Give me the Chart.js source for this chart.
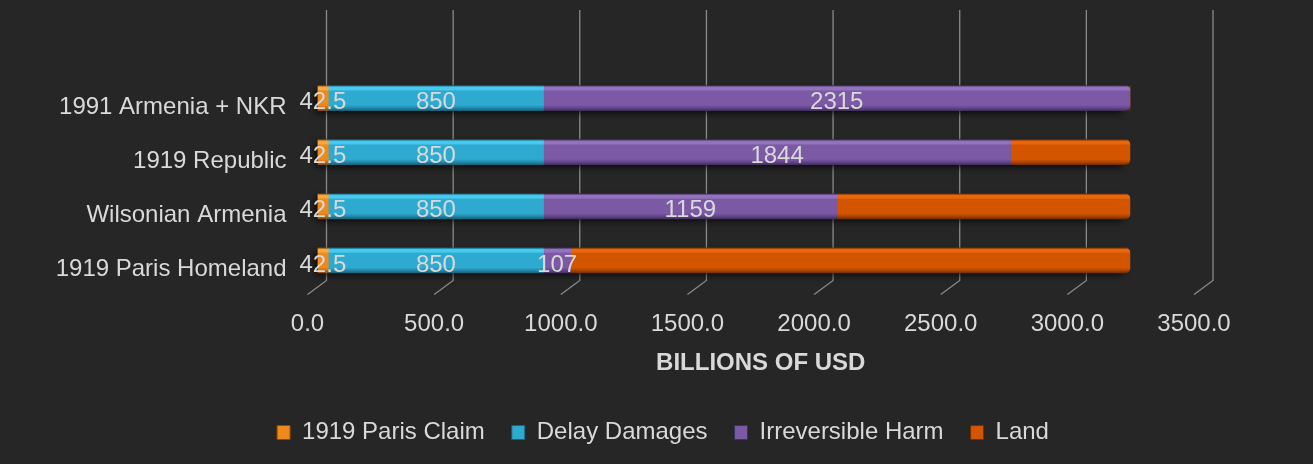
<!DOCTYPE html>
<html><head><meta charset="utf-8">
<script src="https://cdn.jsdelivr.net/npm/chart.js@4.4.0/dist/chart.umd.min.js"></script>
<style>html,body{margin:0;padding:0;background:#262626;}#wrap{width:1313px;height:464px;}</style>
</head><body><div id="wrap"><canvas id="c" width="1313" height="464"></canvas></div>
<script>
const categories = ['1991 Armenia + NKR', '1919 Republic', 'Wilsonian Armenia', '1919 Paris Homeland'];
const seriesNames = ['1919 Paris Claim', 'Delay Damages', 'Irreversible Harm', 'Land'];
const parisClaim = [42.5, 42.5, 42.5, 42.5];
const delayDamages = [850, 850, 850, 850];
const irreversibleHarm = [2315, 1844, 1159, 107];
const land = [0, 471, 1156, 2208];
const showValueLabels = [true, true, true, false];
const xTickValues = [0, 500, 1000, 1500, 2000, 2500, 3000, 3500];
const axisTitle = 'BILLIONS OF USD';

const FONT = "'Liberation Sans', Arial, sans-serif";
const FS = 24;
const TXT = '#d9d9d9';
const palette = [
  {light:'#f8a83e', mid:'#ee8a1c', dark:'#c56c0f', edge:'#8a4a08'},
  {light:'#47caef', mid:'#2eaad0', dark:'#2389aa', edge:'#17617a'},
  {light:'#9372be', mid:'#7b59a5', dark:'#624589', edge:'#42305e'},
  {light:'#ea660c', mid:'#d45500', dark:'#ad4500', edge:'#733000'}
];
const BAR_T = 25;
const seriesData = [parisClaim, delayDamages, irreversibleHarm, land];

function barFill(i) {
  return (ctx) => {
    const chart = ctx.chart, ys = chart.scales.y, p = palette[i];
    if (!ys || !chart.chartArea || ctx.dataIndex === undefined) return p.mid;
    const yc = ys.getPixelForValue(ctx.dataIndex);
    const g = chart.ctx.createLinearGradient(0, yc - BAR_T/2, 0, yc + BAR_T/2);
    g.addColorStop(0, p.edge);
    g.addColorStop(0.06, p.light);
    g.addColorStop(0.16, p.light);
    g.addColorStop(0.22, p.mid);
    g.addColorStop(0.78, p.mid);
    g.addColorStop(0.9, p.dark);
    g.addColorStop(1, p.edge);
    return g;
  };
}

function lastSeriesIndex(j) {
  let last = 0;
  seriesData.forEach((arr, i) => { if (arr[j] > 0) last = i; });
  return last;
}

function barRadius(i) {
  return (ctx) => (ctx.dataIndex !== undefined && lastSeriesIndex(ctx.dataIndex) === i)
    ? {topLeft: 0, bottomLeft: 0, topRight: 5, bottomRight: 5} : 0;
}

const bgPlugin = {
  id: 'bg',
  beforeDraw(chart) {
    const c = chart.ctx;
    c.save(); c.fillStyle = '#262626'; c.fillRect(0, 0, chart.width, chart.height); c.restore();
  }
};

const wallPlugin = {
  id: 'wall',
  beforeDatasetsDraw(chart) {
    const c = chart.ctx, xs = chart.scales.x, ys = chart.scales.y, area = chart.chartArea;
    c.save();
    c.strokeStyle = '#8a8a8a';
    c.lineWidth = 1.3;
    xTickValues.forEach(v => {
      const px = xs.getPixelForValue(v);
      c.beginPath();
      c.moveTo(px + 9, area.top - 61);
      c.lineTo(px + 9, area.bottom - 7);
      c.lineTo(px - 10, area.bottom + 7);
      c.stroke();
    });
    c.fillStyle = '#111';
    c.shadowColor = 'rgba(0,0,0,0.85)';
    c.shadowBlur = 7;
    c.shadowOffsetX = -3;
    c.shadowOffsetY = 2;
    categories.forEach((_, j) => {
      const total = seriesData.reduce((s, arr) => s + arr[j], 0);
      const x0 = xs.getPixelForValue(0), x1 = xs.getPixelForValue(total);
      const yc = ys.getPixelForValue(j);
      c.fillRect(x0, yc - BAR_T/2 + 1, x1 - x0 - 4, BAR_T - 1);
    });
    c.restore();
  }
};

const labelPlugin = {
  id: 'vlabels',
  afterDatasetsDraw(chart) {
    const c = chart.ctx;
    c.save();
    c.font = FS + 'px ' + FONT;
    c.fillStyle = TXT;
    c.textAlign = 'center';
    c.textBaseline = 'middle';
    chart.data.datasets.forEach((ds, i) => {
      if (!showValueLabels[i]) return;
      const meta = chart.getDatasetMeta(i);
      meta.data.forEach((el, j) => {
        const v = ds.data[j];
        if (!v) return;
        const cx = (el.x + el.base) / 2;
        c.fillText(String(v), cx, el.y + 4.5);
      });
    });
    c.restore();
  }
};

new Chart(document.getElementById('c'), {
  type: 'bar',
  data: {
    labels: categories,
    datasets: seriesNames.map((name, i) => ({
      label: name,
      data: seriesData[i],
      backgroundColor: barFill(i),
      borderWidth: 0,
      borderRadius: barRadius(i),
      barThickness: BAR_T
    }))
  },
  options: {
    indexAxis: 'y',
    responsive: false,
    animation: false,
    layout: {padding: {left: 13, top: 71, right: 0, bottom: 9.5}},
    plugins: {
      tooltip: {enabled: false},
      legend: {
        position: 'bottom',
        labels: {
          color: TXT,
          font: {size: FS, family: FONT},
          boxWidth: 13,
          boxHeight: 14,
          padding: 27,
          generateLabels: (chart) => chart.data.datasets.map((ds, i) => ({
            text: ds.label,
            fillStyle: palette[i].mid,
            strokeStyle: palette[i].edge,
            lineWidth: 1,
            hidden: false,
            datasetIndex: i,
            fontColor: TXT
          }))
        }
      }
    },
    scales: {
      x: {
        stacked: true,
        min: 0,
        max: 3500,
        grid: {display: false, drawTicks: false},
        border: {display: false},
        afterBuildTicks: (s) => { s.ticks = xTickValues.map(v => ({value: v})); },
        ticks: {
          color: TXT,
          font: {size: FS, family: FONT},
          padding: 22,
          labelOffset: -10,
          maxRotation: 0,
          autoSkip: false,
          callback: (v) => Number(v).toFixed(1)
        },
        title: {
          display: true,
          text: axisTitle,
          color: TXT,
          font: {size: FS, family: FONT, weight: 'bold'},
          padding: {top: 0, bottom: 16}
        },
        afterFit: (s) => { s.height = 106; }
      },
      y: {
        stacked: true,
        grid: {display: false, drawTicks: false},
        border: {display: false},
        ticks: {color: TXT, font: {size: FS, family: FONT}, padding: 31, labelOffset: 9},
        afterFit: (s) => { s.width = 304.5; }
      },
      y2: {
        position: 'right',
        type: 'linear',
        min: 0, max: 1,
        grid: {display: false, drawTicks: false},
        border: {display: false},
        ticks: {display: false},
        afterFit: (s) => { s.width = 109; }
      }
    }
  },
  plugins: [bgPlugin, wallPlugin, labelPlugin]
});
</script>
</body></html>
